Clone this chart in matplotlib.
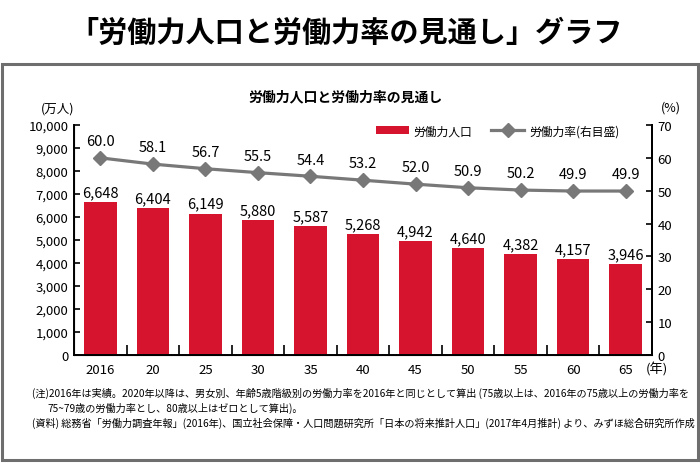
import matplotlib
matplotlib.use("Agg")
import matplotlib.pyplot as plt
from matplotlib.patches import Rectangle, Patch
from matplotlib.lines import Line2D
from matplotlib.ticker import FuncFormatter, FixedLocator

plt.rcParams['font.family'] = ['Noto Sans CJK JP', 'DejaVu Sans']

# --- data ---
years = ["2016", "20", "25", "30", "35", "40", "45", "50", "55", "60", "65"]
labor_force = [6648, 6404, 6149, 5880, 5587, 5268, 4942, 4640, 4382, 4157, 3946]  # 万人
participation = [60.0, 58.1, 56.7, 55.5, 54.4, 53.2, 52.0, 50.9, 50.2, 49.9, 49.9]  # %

bar_color = "#D7142D"
line_color = "#787878"

fig = plt.figure(figsize=(7, 4.64), dpi=100)

# outer frame around the chart
fig.patches.append(Rectangle((2 / 700, 3 / 464), 696 / 700, 396 / 464,
                             transform=fig.transFigure, fill=False,
                             edgecolor="#6e6e6e", linewidth=2.2))

fig.text(0.494, 0.929, "「労働力人口と労働力率の見通し」グラフ",
         ha="center", va="center", fontsize=21, fontweight="bold")
fig.text(0.494, 0.789, "労働力人口と労働力率の見通し",
         ha="center", va="center", fontsize=10, fontweight="bold")

ax = fig.add_axes([74 / 700, 1 - 356 / 464, 578 / 700, 230 / 464])
x = list(range(len(years)))
ax.bar(x, labor_force, width=0.62, color=bar_color, zorder=2)
ax.set_xlim(-0.5, len(years) - 0.5)
ax.set_ylim(0, 10000)
ax.set_yticks(range(0, 10001, 1000))
ax.yaxis.set_major_formatter(FuncFormatter(lambda v, p: f"{int(v):,}"))
ax.set_xticks(x)
ax.set_xticklabels(years)
ax.xaxis.set_minor_locator(FixedLocator([i + 0.5 for i in x[:-1]]))
ax.tick_params(axis="x", which="major", length=0, pad=6, labelsize=9.5)
ax.tick_params(axis="x", which="minor", direction="in", length=7, width=1.2)
ax.tick_params(axis="y", direction="in", length=4, width=1.2, labelsize=9.5, pad=4)
ax.spines["top"].set_visible(False)
for s in ["left", "bottom", "right"]:
    ax.spines[s].set_linewidth(1.4)

for xi, v in zip(x, labor_force):
    ax.annotate(f"{v:,}", (xi, v), xytext=(0, 2), textcoords="offset points",
                ha="center", va="bottom", fontsize=10.5)

ax2 = ax.twinx()
ax2.set_ylim(0, 70)
ax2.set_yticks(range(0, 71, 10))
ax2.tick_params(axis="y", direction="in", length=4, width=1.2, labelsize=9.5, pad=4)
ax2.spines["top"].set_visible(False)
ax2.spines["right"].set_linewidth(1.4)
ax2.plot(x, participation, color=line_color, linewidth=2.3, marker="D",
         markersize=7, zorder=3)
for xi, v in zip(x, participation):
    ax2.annotate(f"{v:.1f}", (xi, v), xytext=(0, 7), textcoords="offset points",
                 ha="center", va="bottom", fontsize=10.5)

# unit labels
fig.text(58 / 700, 1 - 109 / 464, "(万人)", ha="center", va="center", fontsize=9)
fig.text(671 / 700, 1 - 108 / 464, "(%)", ha="center", va="center", fontsize=9)
fig.text(657 / 700, 1 - 370 / 464, "(年)", ha="center", va="center", fontsize=9.5)

handles = [Patch(facecolor=bar_color, edgecolor="none"),
           Line2D([], [], color=line_color, linewidth=2.3, marker="D", markersize=7)]
ax2.legend(handles, ["労働力人口", "労働力率(右目盛)"], loc="center right",
           bbox_to_anchor=(0.962, 0.975), ncol=2, frameon=False, fontsize=8.5,
           handlelength=2.8, handleheight=0.6, columnspacing=1.6, handletextpad=0.4)

# notes
fig.text(32 / 700, 1 - 393 / 464,
         "(注)2016年は実績。2020年以降は、男女別、年齢5歳階級別の労働力率を2016年と同じとして算出 (75歳以上は、2016年の75歳以上の労働力率を",
         ha="left", va="center", fontsize=7.3)
fig.text(47 / 700, 1 - 408 / 464,
         "75~79歳の労働力率とし、80歳以上はゼロとして算出)。",
         ha="left", va="center", fontsize=7.3)
fig.text(32 / 700, 1 - 423 / 464,
         "(資料) 総務省「労働力調査年報」(2016年)、国立社会保障・人口問題研究所「日本の将来推計人口」(2017年4月推計) より、みずほ総合研究所作成",
         ha="left", va="center", fontsize=7.3)

fig.savefig("out.png", dpi=100)
